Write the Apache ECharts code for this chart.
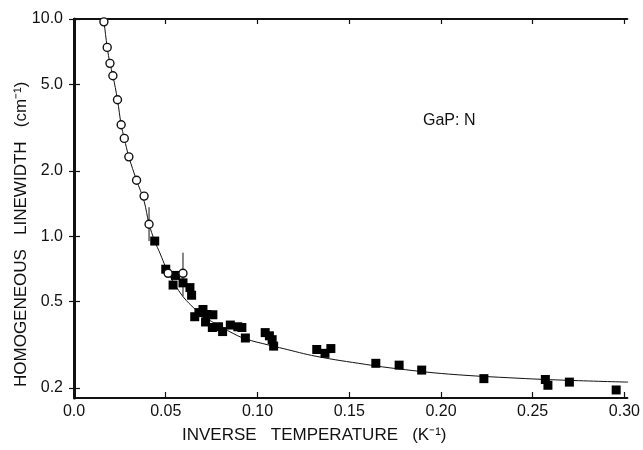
<!DOCTYPE html>
<html>
<head>
<meta charset="utf-8">
<script src="https://cdn.jsdelivr.net/npm/echarts@6/dist/echarts.min.js"></script>
<style>html,body{margin:0;padding:0;background:#fff}#c{width:643px;height:450px}</style>
</head>
<body>
<div id="c"></div>
<script>
// Open circles: [inverse temperature, linewidth]
var circleData = [
  [0.0163, 9.7], [0.0181, 7.4], [0.0196, 6.25], [0.0212, 5.48], [0.0237, 4.25],
  [0.0257, 3.26], [0.0274, 2.82], [0.0299, 2.32], [0.0341, 1.81], [0.0382, 1.53],
  [0.0409, 1.135], [0.0513, 0.675], [0.0594, 0.675]
];
// Filled squares
var squareData = [
  [0.0440, 0.95], [0.0500, 0.705], [0.0553, 0.66], [0.0540, 0.596], [0.0594, 0.61],
  [0.0632, 0.58], [0.0641, 0.535], [0.0658, 0.426], [0.0681, 0.445], [0.0703, 0.46],
  [0.0725, 0.436], [0.0757, 0.435], [0.0717, 0.403], [0.0754, 0.380], [0.0788, 0.383],
  [0.0810, 0.364], [0.0852, 0.390], [0.0893, 0.383], [0.0915, 0.380], [0.0934, 0.340],
  [0.1042, 0.360], [0.1065, 0.348], [0.1080, 0.334], [0.1088, 0.312], [0.1323, 0.301],
  [0.1368, 0.289], [0.1400, 0.304], [0.1645, 0.260], [0.1772, 0.255], [0.1895, 0.242],
  [0.2234, 0.221], [0.2569, 0.219], [0.2583, 0.206], [0.2700, 0.213], [0.2955, 0.196]
];
// Fitted curve
var curveData = [
  [0.0158, 10.0], [0.0163, 9.7], [0.0181, 7.4], [0.0196, 6.25], [0.0212, 5.48],
  [0.0237, 4.25], [0.0257, 3.26], [0.0274, 2.82], [0.0299, 2.32], [0.0341, 1.81],
  [0.0382, 1.45], [0.0409, 1.14], [0.044, 0.95], [0.047, 0.83], [0.050, 0.72],
  [0.053, 0.64], [0.056, 0.58], [0.060, 0.52], [0.065, 0.47], [0.070, 0.43],
  [0.075, 0.405], [0.080, 0.383], [0.085, 0.363], [0.093, 0.338], [0.1065, 0.315],
  [0.114, 0.304], [0.132, 0.280], [0.159, 0.257], [0.177, 0.245], [0.204, 0.232],
  [0.242, 0.222], [0.270, 0.217], [0.302, 0.213]
];
// Error bars: [x, low, high]
var errorBars = [
  [0.0409, 0.95, 1.36],
  [0.0594, 0.53, 0.84]
];
var xTicks = [0, 0.05, 0.10, 0.15, 0.20, 0.25, 0.30];
var xTickLabels = ['0.0', '0.05', '0.10', '0.15', '0.20', '0.25', '0.30'];
var yTicks = [0.2, 0.5, 1, 2, 5, 10];
var yTickLabels = ['0.2', '0.5', '1.0', '2.0', '5.0', '10.0'];

var FONT = 'Liberation Sans';
var chart = echarts.init(document.getElementById('c'));

function xLab(v) {
  for (var i = 0; i < xTicks.length; i++) if (Math.abs(xTicks[i] - v) < 1e-6) return xTickLabels[i];
  return '';
}
function yLab(v) {
  for (var i = 0; i < yTicks.length; i++) if (Math.abs(yTicks[i] - v) < 1e-6) return yTickLabels[i];
  return '';
}

var errSeries = errorBars.map(function (e) {
  return {
    type: 'line', data: [[e[0], e[1]], [e[0], e[2]]], symbol: 'none',
    lineStyle: { color: '#111', width: 1 }, silent: true, z: 1
  };
});

var axisCommon = {
  axisLine: { show: true, lineStyle: { color: '#111', width: 2 } },
  splitLine: { show: false }
};

chart.setOption({
  animation: false,
  backgroundColor: '#fff',
  grid: { left: 74, right: 14, top: 19, bottom: 52 },
  xAxis: [
    Object.assign({}, axisCommon, {
      type: 'value', min: 0, max: 0.3016, position: 'bottom',
      axisTick: { show: true, inside: true, length: 6, customValues: xTicks, lineStyle: { color: '#111', width: 1.2 } },
      axisLabel: { customValues: xTicks, formatter: xLab, color: '#111', fontFamily: FONT, fontSize: 16, margin: 6 }
    }),
    Object.assign({}, axisCommon, {
      type: 'value', min: 0, max: 0.3016, position: 'top',
      axisTick: { show: true, inside: true, length: 5, customValues: xTicks, lineStyle: { color: '#111', width: 1.2 } },
      axisLabel: { show: false }
    })
  ],
  yAxis: [
    Object.assign({}, axisCommon, {
      type: 'log', logBase: 10, min: 0.18, max: 10, position: 'left',
      axisTick: { show: true, inside: true, length: 6, customValues: yTicks, lineStyle: { color: '#111', width: 1.2 } },
      axisLabel: { customValues: yTicks, formatter: yLab, color: '#111', fontFamily: FONT, fontSize: 16, margin: 11 }
    }),
    Object.assign({}, axisCommon, {
      type: 'log', logBase: 10, min: 0.18, max: 10, position: 'right',
      axisLine: { show: true, lineStyle: { color: '#111', width: 3 } },
      axisTick: { show: true, inside: true, length: 5, customValues: yTicks, lineStyle: { color: '#111', width: 1.2 } },
      axisLabel: { show: false }
    })
  ],
  series: [
    {
      type: 'line', data: curveData, smooth: 0.4, symbol: 'none',
      lineStyle: { color: '#111', width: 1 }, silent: true, z: 1
    }
  ].concat(errSeries).concat([
    {
      type: 'scatter', data: squareData, symbol: 'rect', symbolSize: 9,
      itemStyle: { color: '#000', opacity: 1 }, z: 3
    },
    {
      type: 'scatter', data: circleData, symbol: 'circle', symbolSize: 8,
      itemStyle: { color: '#fff', borderColor: '#111', borderWidth: 1.4, opacity: 1 }, z: 4
    }
  ]),
  graphic: [
    {
      type: 'text', left: 182, top: 427,
      style: { text: 'INVERSE   TEMPERATURE   (K⁻¹)', fill: '#111', font: '17px "' + FONT + '"' }
    },
    {
      type: 'text', x: 13, y: 387, rotation: Math.PI / 2,
      style: { text: 'HOMOGENEOUS   LINEWIDTH   (cm⁻¹)', fill: '#111', font: '17px "' + FONT + '"', textAlign: 'left', textVerticalAlign: 'top' }
    },
    {
      type: 'text', left: 423, top: 113,
      style: { text: 'GaP: N', fill: '#111', font: '16px "' + FONT + '"' }
    }
  ]
});
</script>
</body>
</html>
